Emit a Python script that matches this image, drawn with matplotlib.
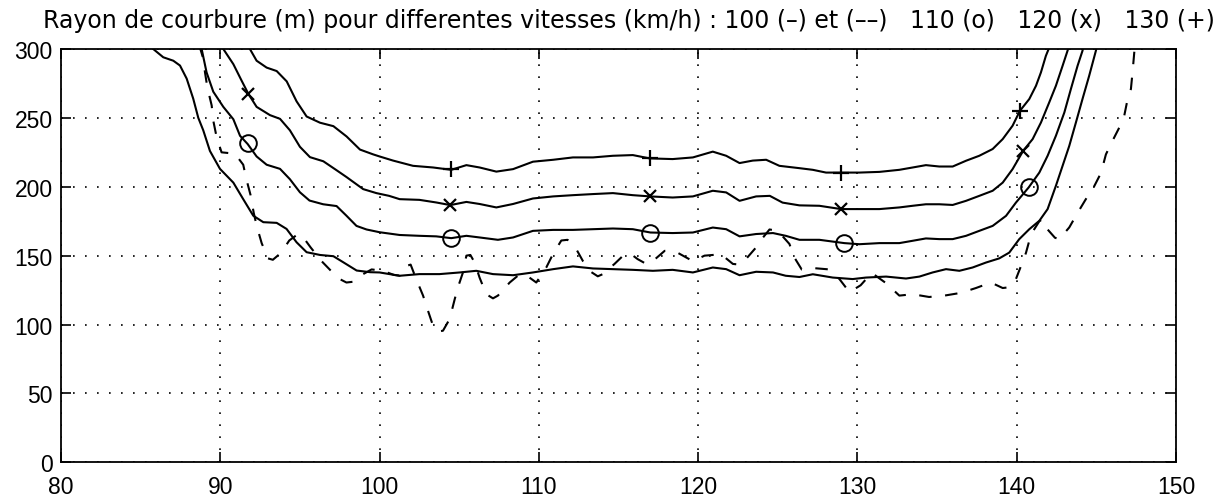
import matplotlib
matplotlib.use("Agg")
import matplotlib.pyplot as plt

plt.rcParams['font.family'] = ['Liberation Sans', 'DejaVu Sans']

# ---- data ----
x100 = [85.5, 85.79, 86.42, 87.05, 87.47, 87.89, 88.3, 88.62, 88.93, 89.35, 89.98, 90.82, 91.44, 92.07,
        92.7, 93.54, 94.16, 94.79, 95.42, 96.26, 97.1, 97.72, 98.56, 99.4, 100.0, 101.26, 102.5, 103.76,
        105.03, 106.07, 107.12, 108.38, 109.63, 110.9, 112.14, 113.4, 114.65, 115.9, 117.16, 118.4,
        119.67, 120.92, 121.76, 122.6, 123.64, 124.7, 125.5, 126.36, 127.2, 128.45, 129.7, 130.54,
        131.8, 133.05, 133.89, 134.72, 135.56, 136.4, 137.23, 138.07, 138.9, 139.53, 140.16, 140.79,
        141.42, 141.94, 142.46, 142.88, 143.3, 143.72, 144.13, 144.55, 144.97, 145.05]
y100 = [303, 300, 294, 291.5, 288, 278.5, 264, 250, 241, 226, 213, 203, 191, 179,
        174.3, 173.8, 169.4, 159.7, 152.5, 150.5, 149.6, 145.2, 139.2, 138, 137.8, 135.4, 136.6, 136.6,
        137.8, 139, 136.6, 135.8, 137.8, 140.2, 142.2, 140.7, 140.2, 139.7, 139, 139.7,
        137.8, 141.4, 140.2, 135.8, 138.3, 137.8, 135.4, 134.5, 136.5, 134.1, 133, 134.1,
        134.8, 133.4, 134.8, 137.8, 140.2, 139, 141.4, 145, 148, 152.2, 162, 169.2,
        175.3, 183.8, 200.7, 215.2, 229.7, 246.8, 263.7, 280.6, 298.7, 303]

x100d = [88.7, 88.75, 88.93, 89.04, 89.19, 89.46, 89.56, 89.77, 90.08, 90.92, 91.44, 91.65, 91.9, 92.1,
         92.3, 92.6, 93.0, 93.3, 93.81, 94.33, 94.8, 95.1, 95.67, 96.36, 96.99, 97.5, 97.92, 98.3,
         98.56, 99.5, 100.2, 100.9, 101.26, 101.68, 101.95, 102.3, 102.73, 103.04, 103.36, 103.7,
         103.98, 104.4, 104.72, 104.92, 105.24, 105.45, 105.7, 105.97, 106.28, 106.7, 107.12, 107.43,
         108.17, 108.79, 109.3, 109.84, 110.47, 110.88, 111.41, 111.8, 112.24, 112.77, 113.3, 113.7,
         114.0, 114.75, 115.38, 115.8, 116.2, 116.74, 117.05, 117.9, 118.3, 118.73, 119.67, 120.4,
         121.44, 122.18, 122.6, 123.0, 123.64, 124.06, 124.48, 125.0, 125.73, 126.05, 126.5, 127.2,
         128.24, 128.87, 129.5, 130.2, 130.9, 131.8, 132.63, 133.47, 134.5, 135.46, 136.5, 137.44,
         138.38, 139.12, 139.5, 139.95, 140.27, 140.58, 140.9, 141.42, 141.63, 141.94, 142.4, 142.67,
         143.3, 143.82, 144.34, 144.87, 145.29, 145.6, 146.02, 146.44, 146.75, 146.96, 147.17, 147.27,
         147.38, 147.42]
y100d = [303, 300, 293, 283, 272, 259, 248, 236, 225, 224, 216, 205, 194, 181,
         171, 159, 148, 147, 152, 161, 165, 165, 156, 146, 138.5, 133, 130.5, 131,
         134, 140, 139, 136, 135.5, 142.5, 143.5, 133, 121, 110, 99, 95,
         95.5, 104, 118.5, 127, 138, 150, 150.5, 145, 134, 122, 119, 121,
         130.5, 136.5, 135, 130.5, 141.5, 151, 161, 161.5, 157, 146, 138, 135,
         136.5, 144, 151, 151, 147.5, 144, 145, 153.5, 153.5, 152, 146, 150,
         151, 144, 143.5, 147.5, 156, 163, 169, 168, 158.5, 148.5, 140, 141,
         140, 133, 123.5, 128.5, 137.5, 130, 121, 122, 120, 121, 123, 126.5,
         130.5, 126.5, 127, 133, 142.5, 152, 165.5, 175, 176.5, 169, 163, 162,
         170.5, 181, 191, 200.5, 210, 223.5, 233.5, 243, 251.5, 263.5, 271, 283,
         297.5, 303]

x110 = [88.7, 88.83, 89.14, 89.56, 90.19, 90.82, 91.24, 91.72, 92.28, 92.91, 93.75, 94.37, 95.0, 95.6,
        96.46, 97.3, 97.92, 98.55, 99.18, 100.0, 101.26, 102.5, 103.56, 104.5, 105.45, 106.28, 107.43,
        108.38, 109.63, 110.9, 112.14, 113.4, 114.65, 115.9, 117.0, 118.4, 119.67, 120.92, 121.76,
        122.6, 123.64, 124.7, 125.5, 126.36, 127.61, 129.18, 130.12, 131.38, 132.63, 133.47, 134.3,
        135.14, 135.98, 136.82, 137.65, 138.49, 139.33, 139.95, 140.75, 141.42, 141.94, 142.46,
        142.99, 143.4, 143.82, 144.13, 144.2]
y110 = [303, 300, 283, 269, 258, 249, 237, 231, 222, 216, 213, 205.5, 196, 190,
        187.3, 186, 179, 171.6, 169, 167, 165, 164.4, 164, 162.7, 164.4, 163.2, 161.5,
        163.2, 168, 168.7, 168.7, 169.2, 169.7, 169.2, 166.8, 166.4, 166.8, 170.4, 169.2,
        164, 165.7, 166.4, 164.4, 161.5, 161.5, 159.1, 158.3, 159.1, 159.1, 160.8, 162.5,
        162, 162, 164.4, 168, 171.6, 178.9, 188.5, 199.5, 210.3, 222.5, 237,
        253.9, 270.9, 287.8, 298.7, 303]

x120 = [90.1, 90.19, 90.82, 91.34, 91.76, 92.28, 93.12, 93.75, 94.37, 95.0, 95.63, 96.47, 97.3, 97.93,
        98.97, 99.8, 100.6, 101.26, 102.5, 103.56, 104.44, 105.45, 106.28, 107.33, 108.38, 109.63,
        110.9, 112.14, 113.4, 114.65, 115.9, 116.99, 118.4, 119.67, 120.92, 121.76, 122.6, 123.64,
        124.5, 125.3, 126.36, 127.61, 128.97, 130.12, 131.38, 132.63, 133.47, 134.3, 135.14, 135.98,
        136.82, 137.65, 138.49, 139.12, 139.74, 140.41, 141.0, 141.52, 142.04, 142.46, 142.88,
        143.19, 143.3]
y120 = [303, 300, 289, 277, 267.5, 258, 252, 249.3, 241, 229, 221.5, 218.5, 212, 207,
        198.3, 195.4, 193.4, 191, 190.5, 188.6, 186.7, 189, 187.5, 185, 187.5, 191.5,
        193, 193.9, 194.7, 195.4, 193.9, 193, 192.2, 193, 197.1, 195.9, 189.8, 193,
        193.4, 188.5, 186.5, 186.2, 183.8, 183.8, 183.8, 185, 186.2, 187.3, 187.3, 186.8,
        189.8, 193.4, 197.1, 203, 212.8, 226.2, 234.6, 246.6, 261.2, 273.3, 287.8,
        298.7, 303]

x130 = [91.7, 91.86, 92.28, 92.91, 93.54, 94.17, 94.79, 95.42, 96.26, 97.1, 97.93, 98.77, 99.6, 100.0,
        100.85, 102.1, 103.36, 104.5, 105.45, 106.28, 107.33, 108.38, 109.63, 110.9, 112.14, 113.4,
        114.65, 115.9, 116.95, 118.4, 119.67, 120.92, 121.76, 122.6, 123.43, 124.27, 125.1, 126.36,
        127.2, 128.03, 128.97, 130.12, 131.38, 132.63, 133.47, 134.3, 135.14, 135.98, 136.82, 137.65,
        138.49, 139.12, 139.74, 140.2, 140.79, 141.21, 141.52, 141.83, 142.04, 142.1]
y130 = [303, 300, 291.5, 286.5, 284, 276.5, 262, 251, 246.5, 244, 236.5, 227, 223.5, 222,
        219, 215.2, 214, 212.3, 215.7, 214, 211, 212.8, 218.2, 219.6, 221.3, 221.3,
        222.5, 223, 220.6, 220.1, 221.3, 225.5, 222.5, 217.2, 219, 219.6, 215.2, 213.5,
        212.3, 210.3, 210.3, 210.3, 210.8, 212.3, 214, 215.7, 214.7, 214.7, 218.9, 222.5,
        227.4, 234.6, 244.3, 255.1, 263.7, 273.3, 283, 295, 301, 303]

# marker positions
mx110 = [91.72, 104.5, 117.0, 129.18, 140.75]
my110 = [231.5, 162.7, 166.8, 159.1, 199.5]
mx120 = [91.76, 104.44, 116.99, 128.97, 140.41]
my120 = [267.5, 186.7, 193, 183.8, 226.2]
mx130 = [104.5, 116.95, 128.97, 140.2]
my130 = [212.8, 220.8, 210.3, 255.1]

xticks = [80, 90, 100, 110, 120, 130, 140, 150]
yticks = [0, 50, 100, 150, 200, 250, 300]
title = "Rayon de courbure (m) pour differentes vitesses (km/h) : 100 (\u2013) et (\u2013\u2013)   110 (o)   120 (x)   130 (+)"

# ---- figure ----
W, H = 1217, 502
fig = plt.figure(figsize=(W / 100, H / 100), dpi=100)
ax = fig.add_axes([61 / W, 1 - 463.3 / H, (1176 - 61) / W, (463.3 - 50) / H])

lw = 1.5
ax.plot(x100, y100, color='black', lw=lw)
ax.plot(x100d, y100d, color='black', lw=lw, dashes=(6, 6.5))
ax.plot(x110, y110, color='black', lw=lw)
ax.plot(x120, y120, color='black', lw=lw)
ax.plot(x130, y130, color='black', lw=lw)

ax.plot(mx110, my110, linestyle='none', marker='o', markersize=12, markerfacecolor='none',
        markeredgecolor='black', markeredgewidth=1.4)
ax.plot(mx120, my120, linestyle='none', marker='x', markersize=9, markeredgecolor='black',
        markeredgewidth=1.6)
ax.plot(mx130, my130, linestyle='none', marker='+', markersize=12, markeredgecolor='black',
        markeredgewidth=1.6)

ax.set_xlim(80, 150)
ax.set_ylim(0, 300)
ax.set_xticks(xticks)
ax.set_yticks(yticks)
ax.set_xticklabels([str(v) for v in xticks])
ax.set_yticklabels([str(v) for v in yticks])

ax.grid(True, color='black', linewidth=1.2, linestyle=(0, (1, 6.2)))
ax.set_axisbelow(True)
ax.tick_params(axis='both', which='major', direction='in', length=7, width=1.2,
               top=True, right=True, labelsize=16.5, colors='black')
ax.tick_params(axis='x', pad=9)
ax.tick_params(axis='y', pad=6)
for s in ax.spines.values():
    s.set_linewidth(1.3)
    s.set_color('black')

fig.text(43 / W, 1 - 28.3 / H, title, ha='left', va='baseline', fontsize=17,
         family=['DejaVu Sans'], color='black')

fig.savefig('out.png', dpi=100)
